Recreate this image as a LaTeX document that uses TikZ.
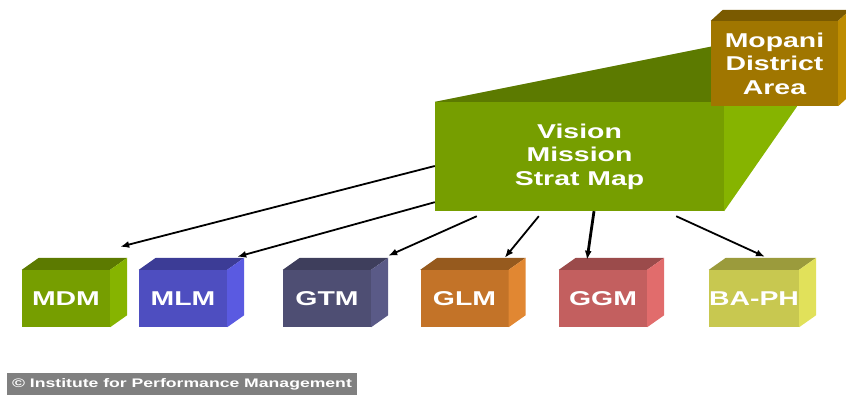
\documentclass[tikz,border=0pt]{standalone}
\usepackage{fontspec}
\setmainfont{Liberation Sans}[FakeStretch=1.42]
\usepackage{tikz}
\usetikzlibrary{arrows.meta}

% face colours: front, top, side
\definecolor{green}{RGB}{118,158,0}
\definecolor{greenTop}{RGB}{92,122,0}
\definecolor{greenSide}{RGB}{134,180,0}
\definecolor{brown}{RGB}{160,118,0}
\definecolor{brownTop}{RGB}{122,90,0}
\definecolor{brownSide}{RGB}{190,140,0}
\definecolor{blue}{RGB}{78,78,192}
\definecolor{blueTop}{RGB}{60,60,150}
\definecolor{blueSide}{RGB}{90,90,225}
\definecolor{slate}{RGB}{78,78,115}
\definecolor{slateTop}{RGB}{62,62,92}
\definecolor{slateSide}{RGB}{90,90,135}
\definecolor{orange}{RGB}{195,115,40}
\definecolor{orangeTop}{RGB}{150,90,30}
\definecolor{orangeSide}{RGB}{225,135,50}
\definecolor{rose}{RGB}{195,95,95}
\definecolor{roseTop}{RGB}{155,75,75}
\definecolor{roseSide}{RGB}{225,108,108}
\definecolor{olive}{RGB}{200,200,80}
\definecolor{oliveTop}{RGB}{155,155,60}
\definecolor{oliveSide}{RGB}{225,225,90}
\definecolor{footgray}{RGB}{128,128,128}

\tikzset{
    block/.style={
           rectangle,
           inner sep=0pt,
           text=white,
           font=\bfseries\fontsize{20}{23.5}\selectfont,
           text centered,
           },
    unit/.style={
           block,
           minimum width=88pt,
           minimum height=57pt,
           },
    link/.style={draw, -{Latex[length=9pt,width=7pt]}, line width=1.8pt},
    footer/.style={
           rectangle,
           fill=footgray,
           inner sep=0pt,
           text=white,
           font=\bfseries\fontsize{12.4}{14}\selectfont,
           minimum width=350pt,
           minimum height=22pt,
           },
}

\begin{document}
\begin{tikzpicture}[x=1pt, y=1pt]
    \useasboundingbox (0,0) rectangle (846,398);

    % Vision box (front face)
    \node[block, fill=green,  	% layout (defined above)
    minimum width=289pt, minimum height=109pt,
    align=center] (vision) at (579.5,241.5)
    {Vision\\Mission\\Strat Map};

    % perspective faces running back to the district box
    \fill[greenTop] (vision.north west) -- ([shift={(295,59)}]vision.north west)
        -- ([shift={(76,55)}]vision.north east) -- (vision.north east) -- cycle;
    \fill[greenSide] (vision.north east) -- ([shift={(76,55)}]vision.north east)
        -- ([shift={(73,105)}]vision.south east) -- (vision.south east) -- cycle;

    % District box
    \node[block, fill=brown,
    minimum width=127pt, minimum height=85pt,
    align=center] (mopani) at (774.5,334.5)
    {Mopani\\District\\Area};
    \fill[brownTop] (mopani.north west) -- ++(12,11)
        -- ([shift={(12,11)}]mopani.north east) -- (mopani.north east) -- cycle;
    \fill[brownSide] (mopani.north east) -- ++(12,11)
        -- ([shift={(12,11)}]mopani.south east) -- (mopani.south east) -- cycle;

    % municipalities, center to center
    \node[unit, fill=green] (mdm) at (66,99.5) {MDM};
    \node[unit, fill=blue,
    right of=mdm, node distance=117pt,
    anchor=center] (mlm) {MLM};
    \node[unit, fill=slate,
    right of=mlm, node distance=144pt,
    anchor=center] (gtm) {GTM};
    \node[unit, fill=orange,
    right of=gtm, node distance=137.5pt,
    anchor=center] (glm) {GLM};
    \node[unit, fill=rose,
    right of=glm, node distance=138.5pt,
    anchor=center] (ggm) {GGM};
    \node[unit, fill=olive,
    right of=ggm, node distance=151pt,
    anchor=center] (baph) {BA-PH};

    % top and side faces of the small boxes
    \foreach \blk/\hue in {mdm/green, mlm/blue, gtm/slate, glm/orange, ggm/rose, baph/olive} {
        \fill[\hue Top] (\blk.north west) -- ++(17,12)
            -- ([shift={(17,12)}]\blk.north east) -- (\blk.north east) -- cycle;
        \fill[\hue Side] (\blk.north east) -- ++(17,12)
            -- ([shift={(17,12)}]\blk.south east) -- (\blk.south east) -- cycle;
    }

    % draw the arrows from the strat map down to each box
    \path
        ([yshift=-9.5pt]vision.west)            edge[link] ([shift={(10,23)}]mdm.north east)
        ([yshift=9pt]vision.south west)         edge[link] ([shift={(10,13)}]mlm.north east)
        ([shift={(42,-5)}]vision.south west)    edge[link] ([shift={(17,14)}]gtm.north east)
        ([shift={(104,-5)}]vision.south west)   edge[link] ([shift={(-4,12)}]glm.north east)
        ([xshift=14.5pt]vision.south)           edge[link, line width=2.8pt] ([shift={(-16,10)}]ggm.north)
        ([shift={(-48,-5)}]vision.south east)   edge[link] ([shift={(11,13)}]baph.north);

    % copyright strip
    \node[footer] (ipm) at (182,14) {© Institute for Performance Management};
\end{tikzpicture}
\end{document}
